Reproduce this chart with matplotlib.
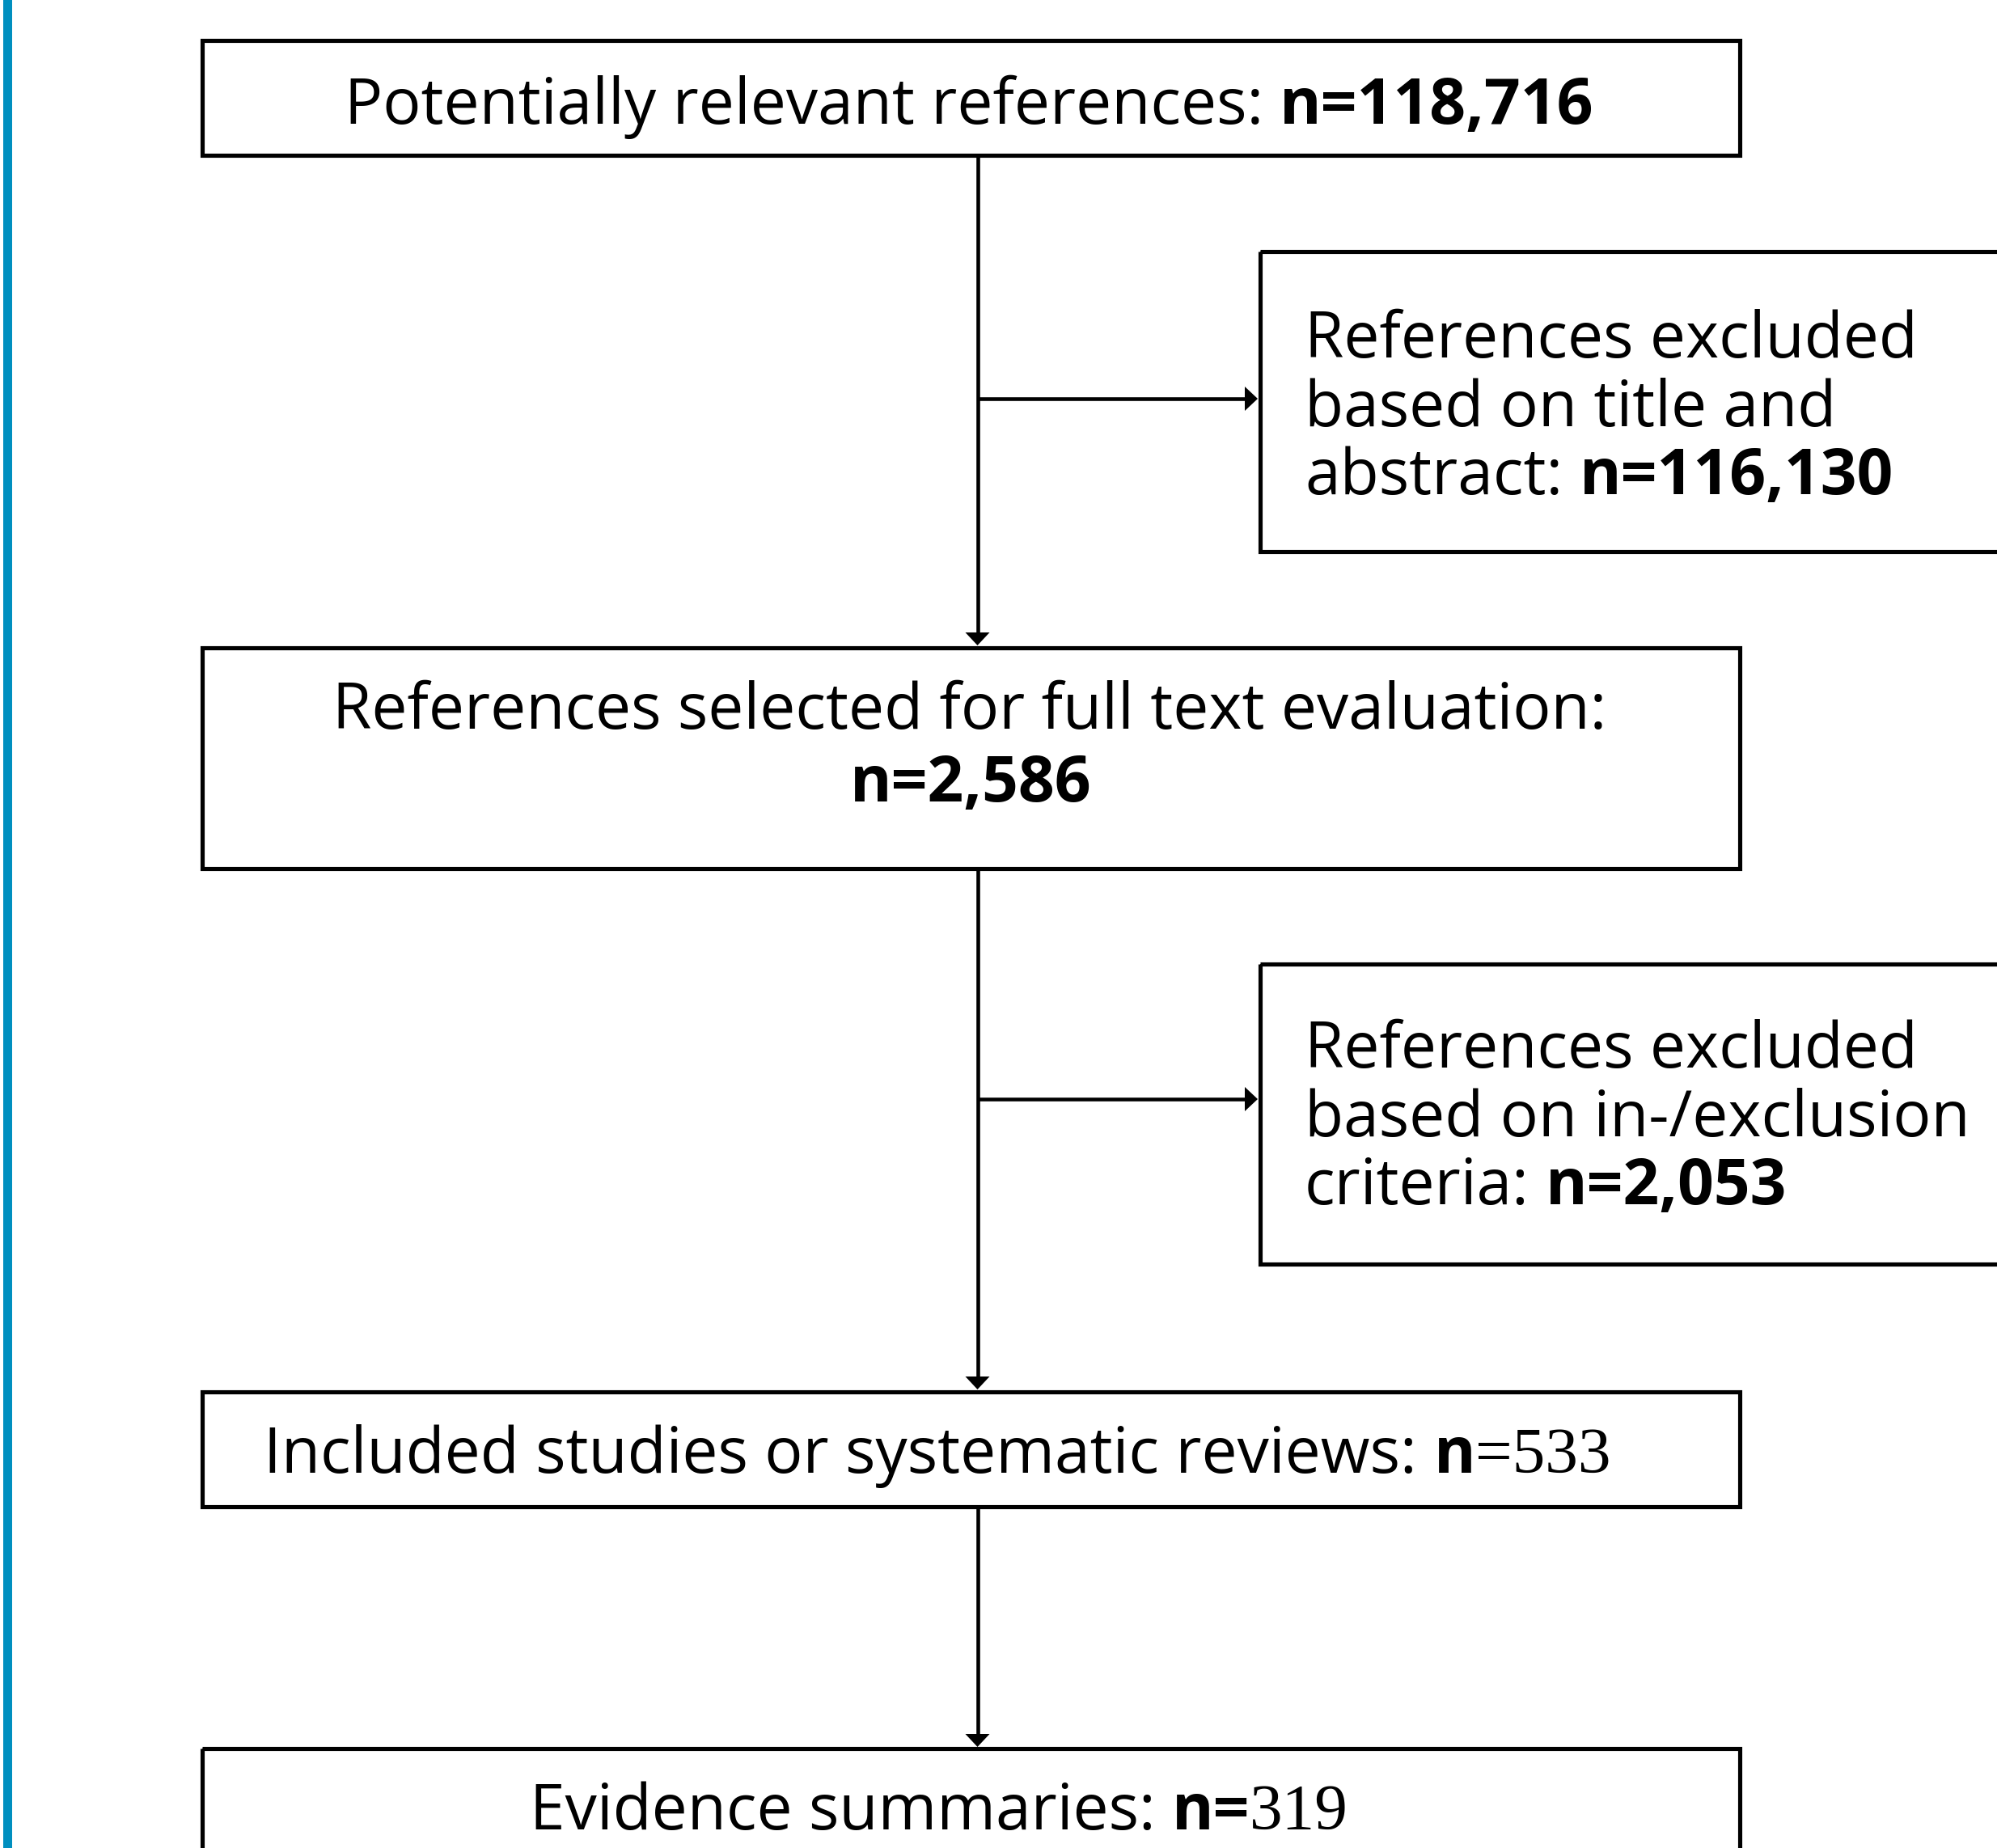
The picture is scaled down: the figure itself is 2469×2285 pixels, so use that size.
import matplotlib.pyplot as plt
from matplotlib.patches import Rectangle, Polygon

# stages of the flow (main column) and the excluded side boxes
stage_labels = ['Potentially relevant references:',
                'References selected for full text evaluation:',
                'Included studies or systematic reviews:',
                'Evidence summaries:']
stage_counts = [118716, 2586, 533, 319]

excluded_lines = [['References excluded', 'based on title and', 'abstract:'],
                  ['References excluded', 'based on in-/exclusion', 'criteria:']]
excluded_counts = [116130, 2053]

SANS = 'Open Sans'
SERIF = 'Liberation Serif'
FS = 56.5
FS_SERIF = 58.5

W, H = 2469, 2285
fig = plt.figure(figsize=(W / 100, H / 100), dpi=100)
ax = fig.add_axes([0, 0, 1, 1])
ax.set_xlim(0, W)
ax.set_ylim(H, 0)
ax.axis('off')
renderer = fig.canvas.get_renderer()


def space_width(family, weight, size):
    a = ax.text(0, 0, 'n n', family=family, fontweight=weight, fontsize=size)
    b = ax.text(0, 0, 'nn', family=family, fontweight=weight, fontsize=size)
    w = a.get_window_extent(renderer).width - b.get_window_extent(renderer).width
    a.remove()
    b.remove()
    return w


# draw one line made of several font runs, all on the same baseline
def draw_parts(parts, x, y, ha='left'):
    texts, widths = [], []
    for s, weight, fam, size in parts:
        gap = 0
        if s.startswith(' '):
            gap = space_width(fam, weight, size)
            s = s[1:]
        t = ax.text(0, y, s, fontsize=size, fontweight=weight, family=fam,
                    va='baseline', ha='left', color='black')
        texts.append((t, gap))
        widths.append(gap + t.get_window_extent(renderer).width)
    x0 = x - sum(widths) / 2 if ha == 'center' else x
    for (t, gap), w in zip(texts, widths):
        t.set_x(x0 + gap)
        x0 += w


def box(x0, y0, x1, y1):
    ax.add_patch(Rectangle((x0, y0), x1 - x0, y1 - y0, fill=False,
                           edgecolor='black', linewidth=3.7, joinstyle='miter'))


def arrow(x0, y0, x1, y1, hl=16, hw=30):
    if x0 == x1:
        ax.plot([x0, x1], [y0, y1 - hl], color='black', lw=3.3, solid_capstyle='butt')
        ax.add_patch(Polygon([(x1, y1), (x1 - hw / 2, y1 - hl), (x1 + hw / 2, y1 - hl)],
                             closed=True, color='black', lw=0))
    else:
        ax.plot([x0, x1 - hl], [y0, y1], color='black', lw=3.3, solid_capstyle='butt')
        ax.add_patch(Polygon([(x1, y1), (x1 - hl, y1 - hw / 2), (x1 - hl, y1 + hw / 2)],
                             closed=True, color='black', lw=0))


# blue side bar
ax.add_patch(Rectangle((4, 0), 11, H, color='#008FBF', lw=0))

# boxes
box(249.5, 49.5, 2150.5, 191.5)
box(1557.5, 310.5, 2600, 681.5)
box(249.5, 800.5, 2150.5, 1074)
box(1557.5, 1192, 2600, 1563)
box(249.5, 1720.5, 2150.5, 1862.5)
box(249.5, 2162, 2150.5, 2400)

# connectors
cx = 1208.5
arrow(cx, 191.5, cx, 798)
arrow(cx, 493, 1555, 493)
arrow(cx, 1074, cx, 1718)
arrow(cx, 1359, 1555, 1359)
arrow(cx, 1862.5, cx, 2160)

# main column text
draw_parts([(stage_labels[0], 'normal', SANS, FS),
            (' n=' + f'{stage_counts[0]:,}', 'bold', SANS, FS)], 1198, 153, 'center')
draw_parts([(stage_labels[1], 'normal', SANS, FS)], 1199, 901, 'center')
draw_parts([('n=' + f'{stage_counts[1]:,}', 'bold', SANS, FS)], 1200, 991, 'center')
draw_parts([(stage_labels[2], 'normal', SANS, FS),
            (' n', 'bold', SANS, FS),
            ('=' + str(stage_counts[2]), 'normal', SERIF, FS_SERIF)], 1159, 1821, 'center')
draw_parts([(stage_labels[3], 'normal', SANS, FS),
            (' n=', 'bold', SANS, FS),
            (str(stage_counts[3]), 'normal', SERIF, FS_SERIF)], 1161, 2262, 'center')

# excluded boxes text
for lines, n, base in zip(excluded_lines, excluded_counts, [442, 1320]):
    for i, line in enumerate(lines):
        parts = [(line, 'normal', SANS, FS)]
        if i == len(lines) - 1:
            parts.append((' n=' + f'{n:,}', 'bold', SANS, FS))
        draw_parts(parts, 1613, base + i * 84.5)

fig.savefig('out.png', dpi=100, facecolor='white')
